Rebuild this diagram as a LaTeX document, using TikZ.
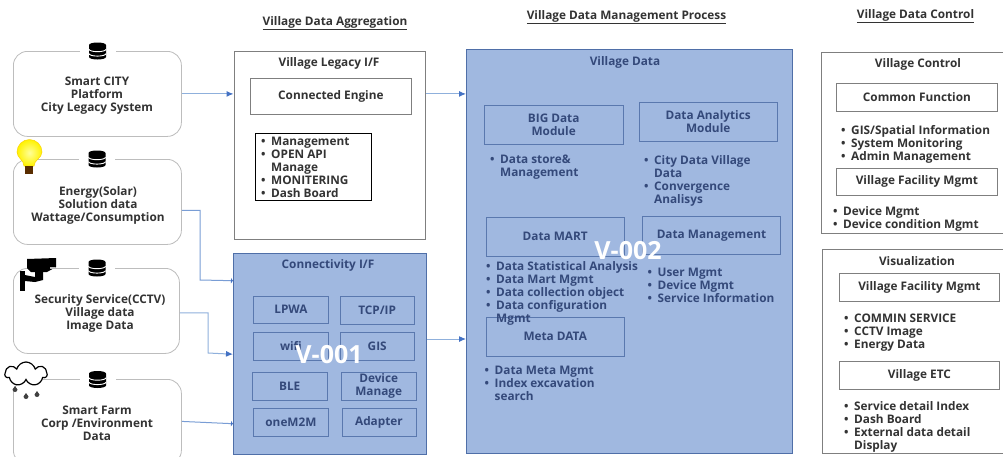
\documentclass[tikz,border=0pt]{standalone}
\usepackage{fontspec}
\setmainfont{Open Sans}
\usetikzlibrary{arrows.meta,shapes.symbols}

\definecolor{paneblue}{HTML}{A0B8E0}
\definecolor{paneedge}{HTML}{4F6FA8}
\definecolor{innerinkblue}{HTML}{5A78AE}
\definecolor{inkblue}{HTML}{34497A}
\definecolor{ink}{HTML}{333333}
\definecolor{wireblue}{HTML}{8FB0DC}
\definecolor{tipblue}{HTML}{4472C4}
\definecolor{softgray}{HTML}{BDBDBD}
\definecolor{boxgray}{HTML}{7F7F7F}

\newcommand{\bitem}[1]{\makebox[10pt][l]{•}#1\\}
\newcommand{\bcont}[1]{\makebox[10pt][l]{}#1\\}

\tikzset{
	txt/.style={font=\bfseries\fontsize{11.8}{13}\selectfont, text=ink, align=center, inner sep=0pt},
	head/.style={txt, font=\bfseries\fontsize{11.8}{13}\selectfont},
	vmark/.style={txt, text=white, font=\bfseries\fontsize{25}{25}\selectfont},
	listing/.style={txt, align=left, anchor=north west, yshift=-2pt},
	box/.style={txt, draw=boxgray, line width=0.8pt, anchor=north west},
	srcbox/.style={box, draw=softgray, rounded corners=14pt},
	pane/.style={box, draw=paneedge, fill=paneblue, line width=1.4pt},
	cell/.style={box, draw=innerinkblue, line width=0.9pt, text=inkblue},
	wire/.style={draw=wireblue, line width=1pt, -{Latex[length=7pt,width=6pt,color=tipblue]}},
	wirecut/.style={draw=wireblue!70!tipblue, line width=1pt, -{Latex[length=2pt,width=6pt,color=tipblue]}},
	dbgap/.style={fill=white, minimum width=36pt, minimum height=14pt, inner sep=0pt},
	dbicon/.pic={
		\fill[black] (-8.5,-6) arc[start angle=180,end angle=360,x radius=8.5,y radius=2.5] -- (8.5,6)
			arc[start angle=0,end angle=180,x radius=8.5,y radius=2.5] -- cycle;
		\draw[white, line width=0.9pt] (-8.5,-1.8) arc[start angle=180,end angle=0,x radius=8.5,y radius=2.5];
		\draw[white, line width=0.9pt] (-8.5,2.6) arc[start angle=180,end angle=0,x radius=8.5,y radius=2.5];
	}
}

\begin{document}
\begin{tikzpicture}[x=1pt,y=-1pt]
\clip (0,0) rectangle (1003,456);
\fill[white] (0,0) rectangle (1003,456);

% column heads
\node[head] (headaggr) at (335,23) {\underline{Village Data Aggregation}};
\node[head] (headproc) at (626.5,17) {\underline{Village Data Management Process}};
\node[head] (headctrl) at (915.5,16) {\underline{Village Data Control}};

% sources
\node[srcbox, minimum width=168pt, minimum height=85pt] (src1) at (13,51) {};
\node[srcbox, minimum width=168pt, minimum height=85pt] (src2) at (13,159) {};
\node[srcbox, minimum width=166pt, minimum height=85pt] (src3) at (13,268) {};
\node[srcbox, minimum width=168pt, minimum height=85pt] (src4) at (13,379) {};

\foreach \name/\x/\y in {db1/97.5/51, db2/97/159, db3/97/268, db4/97.5/379.5} {
	\node[dbgap] (\name) at (\x,\y) {};
	\pic at (\x,\y) {dbicon};
}

\node[txt] (src1txt) at (97,96) {Smart CITY\\Platform\\City Legacy System};
\node[txt] (src2txt) at (98,205) {Energy(Solar)\\Solution data\\Wattage/Consumption};
\node[txt] (src3txt) at (100,313) {Security Service(CCTV)\\Village data\\Image Data};
\node[txt] (src4txt) at (97,423) {Smart Farm\\Corp /Environment\\Data};

% bulb
\shade[inner color=white!60!yellow, outer color=yellow!90!orange, draw=yellow!70!orange, line width=0.5pt]
	(24,166) .. controls (24,160) and (17,158) .. (17,152) arc[start angle=180,end angle=360,radius=12.5]
	.. controls (42,158) and (34,160) .. (34,166) -- cycle;
\fill[black!65!orange] (25,166) rectangle (33,174);

% camera
\fill[black] (27,259) -- (56,258) -- (56,267) -- (47,272) -- (31,272) -- (27,268) -- cycle;
\fill[black] (35,272) -- (43,272) -- (43,280) -- (35,282) -- (25,281) -- (25,275) -- (35,277) -- cycle;
\fill[black] (19.5,271) rectangle (24.5,291);
\fill[softgray] (50,267) rectangle (55,269);

% cloud
\node[cloud, draw=black, fill=white, line width=1.2pt, cloud puffs=7, cloud puff arc=150, aspect=1.8,
	minimum width=42pt, minimum height=24pt, inner sep=0pt] (cloudicon) at (26,374) {};
\foreach \x/\y in {15/389, 26/396, 37/394} {
	\fill[black!75] (\x,\y-3) -- (\x+2.5,\y+0.5) arc[start angle=0,end angle=180,radius=2.5] -- cycle;
}

% aggregation column
\node[box, minimum width=191.5pt, minimum height=187.5pt] (legacy) at (233.5,51) {};
\node[txt] (legacytxt) at (329,63) {Village Legacy I/F};
\node[box, minimum width=161pt, minimum height=36pt] (engine) at (250,78) {Connected Engine};
\node[box, draw=black, line width=1pt, minimum width=115.5pt, minimum height=66.5pt] (legacybox) at (255,133) {};
\node[listing] (legacylist) at (261,134.5)
	{\bitem{Management}\bitem{OPEN API}\bcont{Manage}\bitem{MONITERING}\bitem{Dash Board}};

\node[pane, minimum width=192.5pt, minimum height=201pt] (conn) at (233,253) {};
\node[txt, text=inkblue] (conntxt) at (328,265) {Connectivity I/F};
\foreach \name/\x/\y/\w/\txt in {lpwa/253/295.5/75/LPWA, tcp/340/296/73.5/TCP\slash IP, wifi/253/332/75/wifi, gis/340/332/73.5/GIS,
	ble/252/372/74.5/BLE, dev/341/372/74.5/{Device\\Manage}, m2m/253/408/75/oneM2M, adapter/341.5/408/74/Adapter} {
	\node[cell, minimum width=\w pt, minimum height=27.5pt] (\name) at (\x,\y) {\txt};
}
\node[vmark] (v001) at (329,355) {V-001};

% process column
\node[pane, minimum width=326pt, minimum height=404pt] (vdata) at (466,49) {};
\node[txt, text=inkblue] (vdatatxt) at (625,62) {Village Data};
\node[cell, minimum width=138.5pt, minimum height=39.5pt] (big) at (484,104.5) {BIG Data\\Module};
\node[cell, minimum width=137.5pt, minimum height=39pt] (analytics) at (639,102) {Data Analytics\\Module};
\node[cell, minimum width=138.5pt, minimum height=39pt] (mart) at (485.5,216.5) {Data MART};
\node[cell, minimum width=138pt, minimum height=38.5pt] (mgmt) at (642,215.5) {Data Management};
\node[cell, minimum width=138.5pt, minimum height=39.5pt] (meta) at (485.5,316.5) {Meta DATA};

\node[listing, text=inkblue] (biglist) at (490,152.5) {\bitem{Data store\&}\bcont{Management}};
\node[listing, text=inkblue] (analyticslist) at (644,153.5) {\bitem{City Data Village}\bcont{Data}\bitem{Convergence}\bcont{Analisys}};
\node[listing, text=inkblue] (martlist) at (486,259.5) {\bitem{Data Statistical Analysis}\bitem{Data Mart Mgmt}\bitem{Data collection object}\bitem{Data configuration}\bcont{Mgmt}};
\node[listing, text=inkblue] (mgmtlist) at (647.5,265.5) {\bitem{User Mgmt}\bitem{Device Mgmt}\bitem{Service Information}};
\node[listing, text=inkblue] (metalist) at (484.5,363.5) {\bitem{Data Meta Mgmt}\bitem{Index excavation}\bcont{search}};
\node[vmark] (v002) at (628,251) {V-002};

% control column
\node[box, minimum width=190pt, minimum height=180.5pt] (ctrl) at (821,52) {};
\node[txt] (ctrltxt) at (918,64) {Village Control};
\node[box, minimum width=161pt, minimum height=28pt] (common) at (836,83) {Common Function};
\node[listing] (commonlist) at (841,123.5) {\bitem{GIS/Spatial Information}\bitem{System Monitoring}\bitem{Admin Management}};
\node[box, minimum width=161pt, minimum height=27.5pt] (facility) at (836,167.5) {Village Facility Mgmt};
\node[listing] (facilitylist) at (833,204.5) {\bitem{Device Mgmt}\bitem{Device condition Mgmt}};

\node[box, minimum width=190pt, minimum height=204pt] (visual) at (822,249) {};
\node[txt] (visualtxt) at (917,261) {Visualization};
\node[box, minimum width=160pt, minimum height=28pt] (visfac) at (839,273) {Village Facility Mgmt};
\node[listing] (visfaclist) at (844,311.5) {\bitem{COMMIN SERVICE}\bitem{CCTV Image}\bitem{Energy Data}};
\node[box, minimum width=160pt, minimum height=28pt] (visetc) at (839,361) {Village ETC};
\node[listing] (visetclist) at (844,399.5) {\bitem{Service detail Index}\bitem{Dash Board}\bitem{External data detail}\bcont{Display}};

% connectors
\draw[wire] (src1.east) -- (src1.east -| legacy.west);
\draw[wirecut] ([yshift=-8.5pt]src2.east) -| (200,280) -- ([yshift=73.5pt]conn.west);
\draw[wire] ([yshift=-2pt]src3.east) -| (208,353) -- (conn.west);
\draw[wirecut] ([yshift=0.5pt]src4.east) -- ([yshift=-69.5pt]conn.west);
\draw[wire] (legacy.east |- src1.east) -- (src1.east -| vdata.west);
\draw[wire] (conn.east |- 0,339) -- (vdata.west |- 0,339);
\end{tikzpicture}
\end{document}
